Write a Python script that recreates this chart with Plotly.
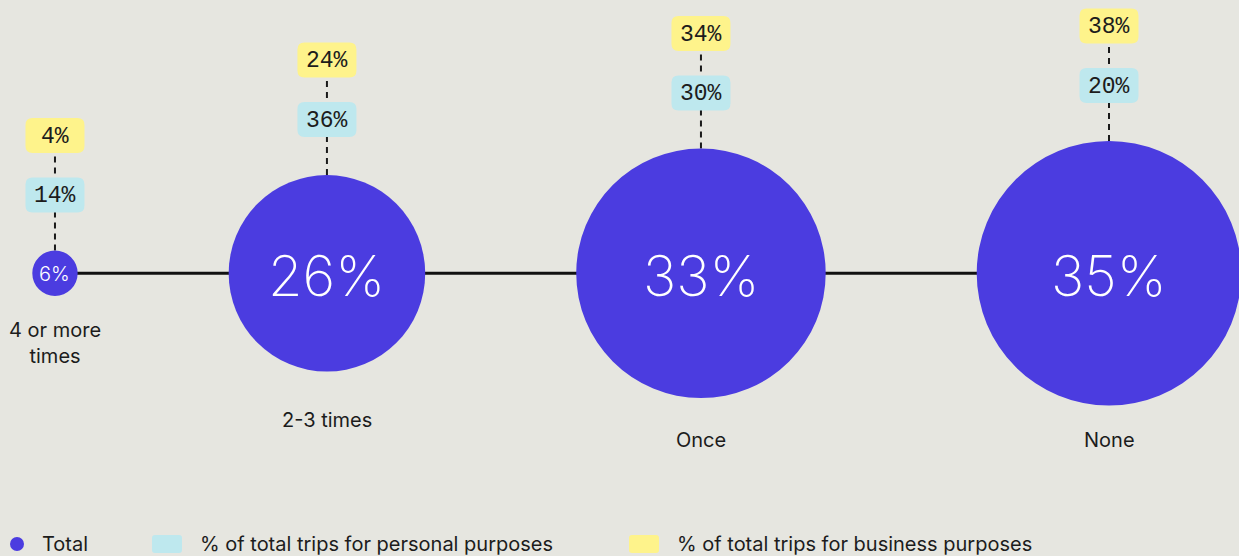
import plotly.graph_objects as go

# Share of respondents by number of trips, with the split of trips by purpose
categories = ["4 or more<br>times", "2-3 times", "Once", "None"]
total_pct = [6, 26, 33, 35]
personal_pct = [14, 36, 30, 20]
business_pct = [4, 24, 34, 38]

# Styling / layout constants (pixels)
W, H = 1239, 556
BG = "#e6e6e0"
PURPLE = "#4b3ce0"
CYAN = "#bee8ee"
YELLOW = "#fef38b"
INK = "#1c1c1c"
PX_PER_PCT = 3.78          # circle radius per percentage point
GAP = 151                  # spacing between neighbouring circles
FIRST_LEFT = 32.3          # left edge of the first circle
AXIS_Y = 273.3             # baseline through circle centres
LABEL_Y = [343, 420, 440, 440]
BADGE_W, BADGE_H, BADGE_R = 59, 35, 7
SANS = "Inter, 'Noto Sans', sans-serif"
MONO = "'Liberation Mono', monospace"

radii = [v * PX_PER_PCT for v in total_pct]
centres = []
edge = FIRST_LEFT
for r in radii:
    centres.append(edge + r)
    edge += 2 * r + GAP


def rounded_rect(cx, cy, w, h, r):
    x0, x1 = cx - w / 2, cx + w / 2
    y0, y1 = cy - h / 2, cy + h / 2
    return (f"M{x0 + r},{y0} L{x1 - r},{y0} Q{x1},{y0} {x1},{y0 + r} "
            f"L{x1},{y1 - r} Q{x1},{y1} {x1 - r},{y1} L{x0 + r},{y1} "
            f"Q{x0},{y1} {x0},{y1 - r} L{x0},{y0 + r} Q{x0},{y0} {x0 + r},{y0} Z")


shapes = []
annotations = []

# baseline joining the circles
shapes.append(dict(type="line", x0=centres[0], x1=centres[-1], y0=AXIS_Y, y1=AXIS_Y,
                   line=dict(color="#111111", width=3), layer="below"))

for cat, tot, per, bus, cx, r, ly in zip(categories, total_pct, personal_pct,
                                         business_pct, centres, radii, LABEL_Y):
    top = AXIS_Y - r
    cyan_y = top - 55.5
    yellow_y = cyan_y - 59.5
    # dashed leader from the circle up to the badges
    shapes.append(dict(type="line", x0=cx, x1=cx, y0=top, y1=yellow_y,
                       line=dict(color="#1a1a1a", width=2, dash="6px,5px"),
                       layer="below"))
    shapes.append(dict(type="circle", x0=cx - r, x1=cx + r, y0=AXIS_Y - r, y1=AXIS_Y + r,
                       fillcolor=PURPLE, line=dict(width=0)))
    for val, yy, col in ((per, cyan_y, CYAN), (bus, yellow_y, YELLOW)):
        shapes.append(dict(type="path", path=rounded_rect(cx, yy, BADGE_W, BADGE_H, BADGE_R),
                           fillcolor=col, line=dict(width=0)))
        annotations.append(dict(x=cx, y=yy + 1, text=f"{val}%", showarrow=False,
                                font=dict(family=MONO, size=23, color=INK),
                                xanchor="center", yanchor="middle"))
    big = tot >= 10
    annotations.append(dict(x=cx, y=AXIS_Y + (3 if big else 1), text=f"{tot}%", showarrow=False,
                            font=dict(family=SANS, size=56 if big else 20, color="white",
                                      weight=200 if big else 300),
                            xanchor="center", yanchor="middle"))
    annotations.append(dict(x=cx, y=ly, text=cat, showarrow=False,
                            font=dict(family=SANS, size=20, color=INK),
                            xanchor="center", yanchor="middle", align="center"))

# legend
LEG_Y = 544
shapes.append(dict(type="circle", x0=10, x1=24, y0=LEG_Y - 7, y1=LEG_Y + 7,
                   fillcolor=PURPLE, line=dict(width=0)))
annotations.append(dict(x=40, y=LEG_Y, text="Total", showarrow=False, xanchor="left",
                        yanchor="middle", font=dict(family=SANS, size=20, color=INK)))
for x0, col, txt in ((152, CYAN, "% of total trips for personal purposes"),
                     (629, YELLOW, "% of total trips for business purposes")):
    shapes.append(dict(type="path", path=rounded_rect(x0 + 15, LEG_Y, 30, 18, 3),
                       fillcolor=col, line=dict(width=0)))
    annotations.append(dict(x=x0 + 46, y=LEG_Y, text=txt, showarrow=False, xanchor="left",
                            yanchor="middle", font=dict(family=SANS, size=20, color=INK)))

fig = go.Figure()
# invisible markers for hover information on each circle
fig.add_trace(go.Scatter(
    x=centres, y=[AXIS_Y] * len(centres), mode="markers",
    marker=dict(size=1, opacity=0),
    customdata=list(zip([c.replace("<br>", " ") for c in categories], personal_pct, business_pct)),
    text=[f"{v}%" for v in total_pct],
    hovertemplate="%{customdata[0]}<br>Total: %{text}<br>Personal: %{customdata[1]}%"
                  "<br>Business: %{customdata[2]}%<extra></extra>",
    showlegend=False,
))
fig.update_layout(
    width=W, height=H, margin=dict(l=0, r=0, t=0, b=0),
    paper_bgcolor=BG, plot_bgcolor=BG,
    xaxis=dict(range=[0, W], visible=False, fixedrange=True),
    yaxis=dict(range=[H, 0], visible=False, fixedrange=True),
    shapes=shapes, annotations=annotations, showlegend=False,
)
fig.write_html("out.html")
